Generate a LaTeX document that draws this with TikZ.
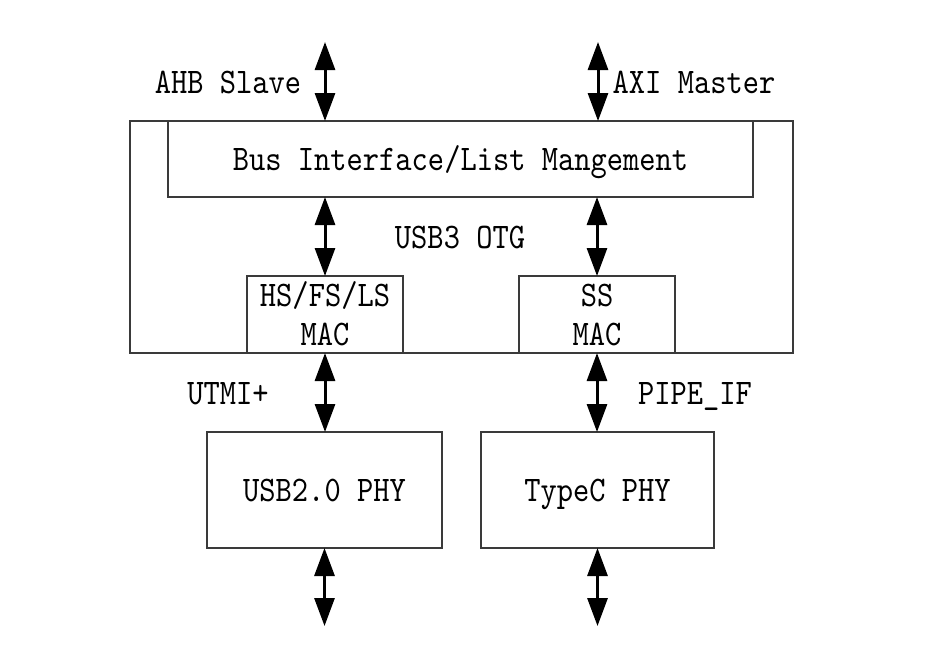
\documentclass[tikz,border=0pt]{standalone}
\usepackage{fontspec}
\usetikzlibrary{arrows.meta}
\newfontfamily\tfont[FakeStretch=0.86]{lmmono10-regular.otf}
\definecolor{boxline}{HTML}{3A3A3A}
\begin{document}
\begin{tikzpicture}[x=1pt,y=-1pt,
  blk/.style={draw=boxline, line width=1.5pt, fill=white, inner sep=0pt, outer sep=0pt},
  txt/.style={font=\tfont\fontsize{36}{39}\selectfont, inner sep=0pt, text height=22pt, text depth=0pt},
  bus/.style={line width=3pt, {Triangle[length=28pt,width=20pt]}-{Triangle[length=28pt,width=20pt]}}
]
\fill[white] (0,0) rectangle (936,651);
\useasboundingbox (0,0) rectangle (936,651);

% containers and blocks
\node[blk, minimum width=663pt, minimum height=232pt] (otg) at (461.5,237) {};
\node[blk, txt, minimum width=585pt, minimum height=76pt] (bif) at (460.5,159) {Bus Interface/List Mangement};
\node[blk, minimum width=156pt, minimum height=77pt] (hsmac) at (325,314.5) {};
\node[blk, minimum width=156pt, minimum height=77pt] (ssmac) at (597,314.5) {};
\node[blk, txt, minimum width=235pt, minimum height=116pt] (usb2) at (324.5,490) {USB2.0 PHY};
\node[blk, txt, minimum width=233pt, minimum height=116pt] (typec) at (597.5,490) {TypeC PHY};

% texts
\node[txt] (hs1) at (325,295) {HS/FS/LS};
\node[txt] (hs2) at (325,334) {MAC};
\node[txt] (ss1) at (597,295) {SS};
\node[txt] (ss2) at (597,334) {MAC};
\node[txt] (otglbl) at (460,237) {USB3 OTG};
\node[txt] (ahb) at (228,82) {AHB Slave};
\node[txt] (axi) at (694,82) {AXI Master};
\node[txt] (utmi) at (228,393) {UTMI+};
\node[txt] (pipe) at (695,393) {PIPE\_IF};

% free ends
\coordinate (ahbend) at (325,42);
\coordinate (axiend) at (598,42);
\coordinate (usb2end) at (324.5,626);
\coordinate (typecend) at (597.5,626);

% connectors
\draw[bus] (ahbend) -- (ahbend |- bif.north);
\draw[bus] (axiend) -- (axiend |- bif.north);
\draw[bus] (hsmac.north |- bif.south) -- (hsmac.north);
\draw[bus] (ssmac.north |- bif.south) -- (ssmac.north);
\draw[bus] (hsmac.south) -- (hsmac.south |- usb2.north);
\draw[bus] (ssmac.south) -- (ssmac.south |- typec.north);
\draw[bus] (usb2.south) -- (usb2end);
\draw[bus] (typec.south) -- (typecend);
\end{tikzpicture}
\end{document}
